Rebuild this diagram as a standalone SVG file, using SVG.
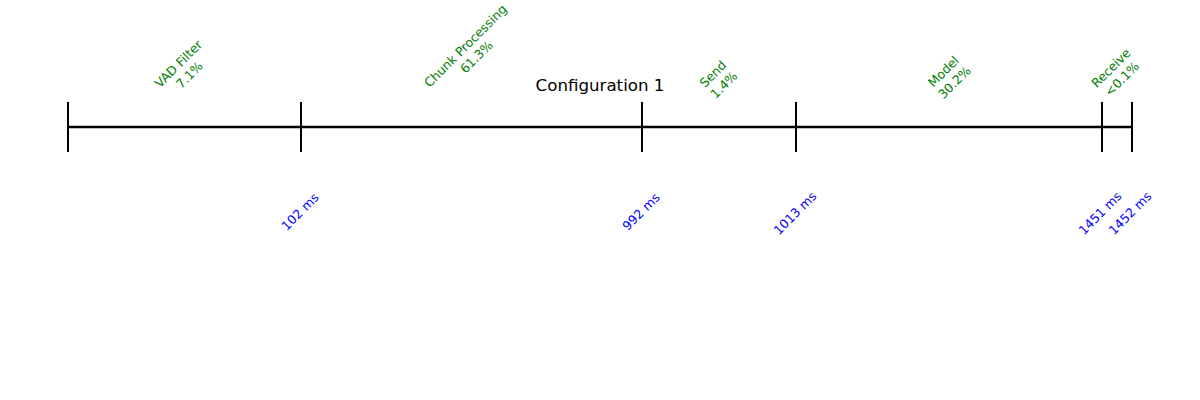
<svg xmlns="http://www.w3.org/2000/svg" width="1200" height="400" viewBox="0 0 1200 400">
<style>
text { font-family: "DejaVu Sans", "Liberation Sans", sans-serif; }
.title { font-size: 16.67px; fill: #000; text-anchor: middle; }
.seg { font-size: 12.5px; fill: #008000; text-anchor: middle; dominant-baseline: central; }
.time { font-size: 12.5px; fill: #0000ff; text-anchor: middle; dominant-baseline: central; }
.axis { stroke: #000; stroke-width: 2.5; fill: none; }
.tick { stroke: #000; stroke-width: 2; fill: none; }
</style>
<rect width="1200" height="400" fill="#fff"/>
<text class="title" x="600" y="91">Configuration 1</text>
<g id="connectors">
<line class="axis" x1="68" y1="127" x2="1132" y2="127"/>
</g>
<g id="tick-0"><line class="tick" x1="68" y1="102" x2="68" y2="152"/></g>
<g id="tick-102"><line class="tick" x1="301" y1="102" x2="301" y2="152"/><text class="time" transform="translate(300,211.5) rotate(-45)">102 ms</text></g>
<g id="tick-992"><line class="tick" x1="642" y1="102" x2="642" y2="152"/><text class="time" transform="translate(641,211.5) rotate(-45)">992 ms</text></g>
<g id="tick-1013"><line class="tick" x1="796" y1="102" x2="796" y2="152"/><text class="time" transform="translate(795,213) rotate(-45)">1013 ms</text></g>
<g id="tick-1451"><line class="tick" x1="1102" y1="102" x2="1102" y2="152"/><text class="time" transform="translate(1100,213) rotate(-45)">1451 ms</text></g>
<g id="tick-1452"><line class="tick" x1="1132" y1="102" x2="1132" y2="152"/><text class="time" transform="translate(1130,213) rotate(-45)">1452 ms</text></g>
<g id="seg-vad"><text class="seg" transform="translate(183.5,69) rotate(-45)"><tspan x="0" y="-7.75">VAD Filter</tspan><tspan x="0" y="7.75">7.1%</tspan></text></g>
<g id="seg-chunk"><text class="seg" transform="translate(470.5,51) rotate(-45)"><tspan x="0" y="-7.75">Chunk Processing</tspan><tspan x="0" y="7.75">61.3%</tspan></text></g>
<g id="seg-send"><text class="seg" transform="translate(718,79) rotate(-45)"><tspan x="0" y="-7.75">Send</tspan><tspan x="0" y="7.75">1.4%</tspan></text></g>
<g id="seg-model"><text class="seg" transform="translate(948.5,76.5) rotate(-45)"><tspan x="0" y="-7.75">Model</tspan><tspan x="0" y="7.75">30.2%</tspan></text></g>
<g id="seg-receive"><text class="seg" transform="translate(1116,73) rotate(-45)"><tspan x="0" y="-7.75">Receive</tspan><tspan x="0" y="7.75">&lt;0.1%</tspan></text></g>
</svg>
